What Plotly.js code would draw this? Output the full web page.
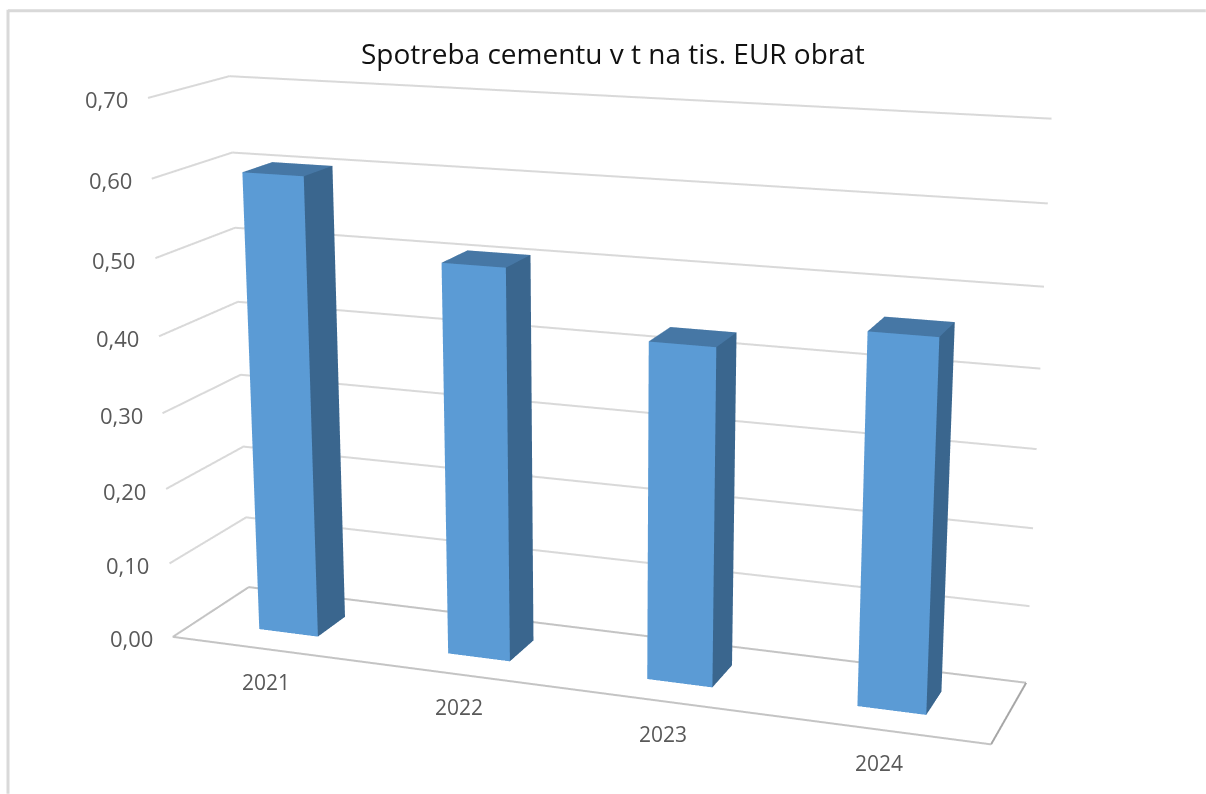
<!DOCTYPE html><html><head><meta charset="utf-8"><script src="https://cdn.plot.ly/plotly-3.0.1.min.js"></script>
<style>html,body{margin:0;background:#fff;overflow:hidden}#w{position:absolute;left:0;top:0;width:1206px;height:794px;overflow:hidden}#g{position:absolute}</style></head><body><div id="w"><div id="g"></div></div>
<script>
const chartTitle='Spotreba cementu v t na tis. EUR obrat';
const years=['2021','2022','2023','2024'];
const cementUse=[0.603,0.507,0.43,0.464];
const yTicks=[0,0.1,0.2,0.3,0.4,0.5,0.6,0.7];
const yTickLabels=['0,00','0,10','0,20','0,30','0,40','0,50','0,60','0,70'];

// Plotly's perspective has a fixed 45 degree field of view, so the figure is larger than the window
// and offset inside a clipping wrapper to reach the reference's long lens and principal point.
const focal=2594.3,cx=615.6,cy=418.7;
const figH=2*focal*Math.tan(Math.PI/8),figW=2*cx,figTop=cy-figH/2;
const g=document.getElementById('g');
g.style.left='0px';g.style.top=figTop+'px';g.style.width=figW+'px';g.style.height=figH+'px';
const paperX=px=>px/figW,paperY=py=>1-(py-figTop)/figH;

const barHalf=0.158,yFront=0.305,yBack=0.69;
const traces=[];
yTicks.forEach(v=>{if(v>0)traces.push({type:'scatter3d',mode:'lines',x:[0,0,4],y:[0,1,1],z:[v,v,v],line:{color:'#D9D9D9',width:4},hoverinfo:'skip',showlegend:false});});
traces.push({type:'scatter3d',mode:'lines',x:[4,0,0,4],y:[1,1,0,0],z:[0,0,0,0],line:{color:'#C4C4C4',width:4},hoverinfo:'skip',showlegend:false});
traces.push({type:'scatter3d',mode:'lines',x:[4,4],y:[0,1],z:[0,0],line:{color:'#A6A6A6',width:4},hoverinfo:'skip',showlegend:false});
cementUse.forEach((v,i)=>{
  const a=i+0.5-barHalf,b=i+0.5+barHalf;
  traces.push({type:'mesh3d',name:years[i],x:[a,b,b,a,a,b,b,a],y:[yFront,yFront,yBack,yBack,yFront,yFront,yBack,yBack],z:[0,0,0,0,v,v,v,v],
    i:[0,0,1,1,4,4],j:[1,5,2,6,5,6],k:[5,4,6,5,6,7],facecolor:['#5B9BD5','#5B9BD5','#3A668E','#3A668E','#4677A5','#4677A5'],
    flatshading:true,lighting:{ambient:1,diffuse:0,specular:0,roughness:1,fresnel:0},showscale:false,hoverinfo:'skip'});
});
const ax={showgrid:false,showline:false,zeroline:false,showticklabels:false,ticks:'',showbackground:false,showspikes:false,title:{text:''}};
const tickFont={family:'"Open Sans",sans-serif',size:22,color:'#595959'};
const notes=[];
yTicks.forEach((v,i)=>notes.push({x:0,y:0,z:v,text:yTickLabels[i],showarrow:false,xshift:-41.5,yshift:-1.5,xanchor:'center',yanchor:'middle',font:tickFont}));
years.forEach((t,i)=>notes.push({x:i+0.5,y:0,z:0,text:t,showarrow:false,yshift:-33,xanchor:'center',yanchor:'middle',font:{family:'"Open Sans",sans-serif',size:21,color:'#595959'}}));
const frame={color:'#D9D9D9',width:3};
Plotly.newPlot('g',traces,{width:figW,height:figH,margin:{l:0,r:0,t:0,b:0},showlegend:false,paper_bgcolor:'#fff',
  title:{text:chartTitle,x:paperX(613),xanchor:'center',xref:'paper',y:paperY(54),yref:'paper',yanchor:'middle',font:{family:'"Open Sans",sans-serif',size:28,color:'#111'}},
  shapes:[{type:'line',xref:'paper',yref:'paper',x0:paperX(8),x1:paperX(1206),y0:paperY(11),y1:paperY(11),line:frame},{type:'line',xref:'paper',yref:'paper',x0:paperX(8),x1:paperX(8),y0:paperY(10),y1:paperY(794),line:frame}],
  scene:{domain:{x:[0,1],y:[0,1]},aspectmode:'manual',aspectratio:{x:1,y:0.1970,z:0.6528},
    camera:{eye:{x:0.9987,y:-2.7018,z:0.7488},center:{x:-0.0678,y:0.2804,z:-0.1097},up:{x:0.0213,y:-0.0624,z:1},projection:{type:'perspective'}},
    xaxis:Object.assign({},ax,{range:[0,4]}),yaxis:Object.assign({},ax,{range:[0,1]}),zaxis:Object.assign({},ax,{range:[0,0.7]}),annotations:notes}
},{displayModeBar:false});
</script></body></html>
